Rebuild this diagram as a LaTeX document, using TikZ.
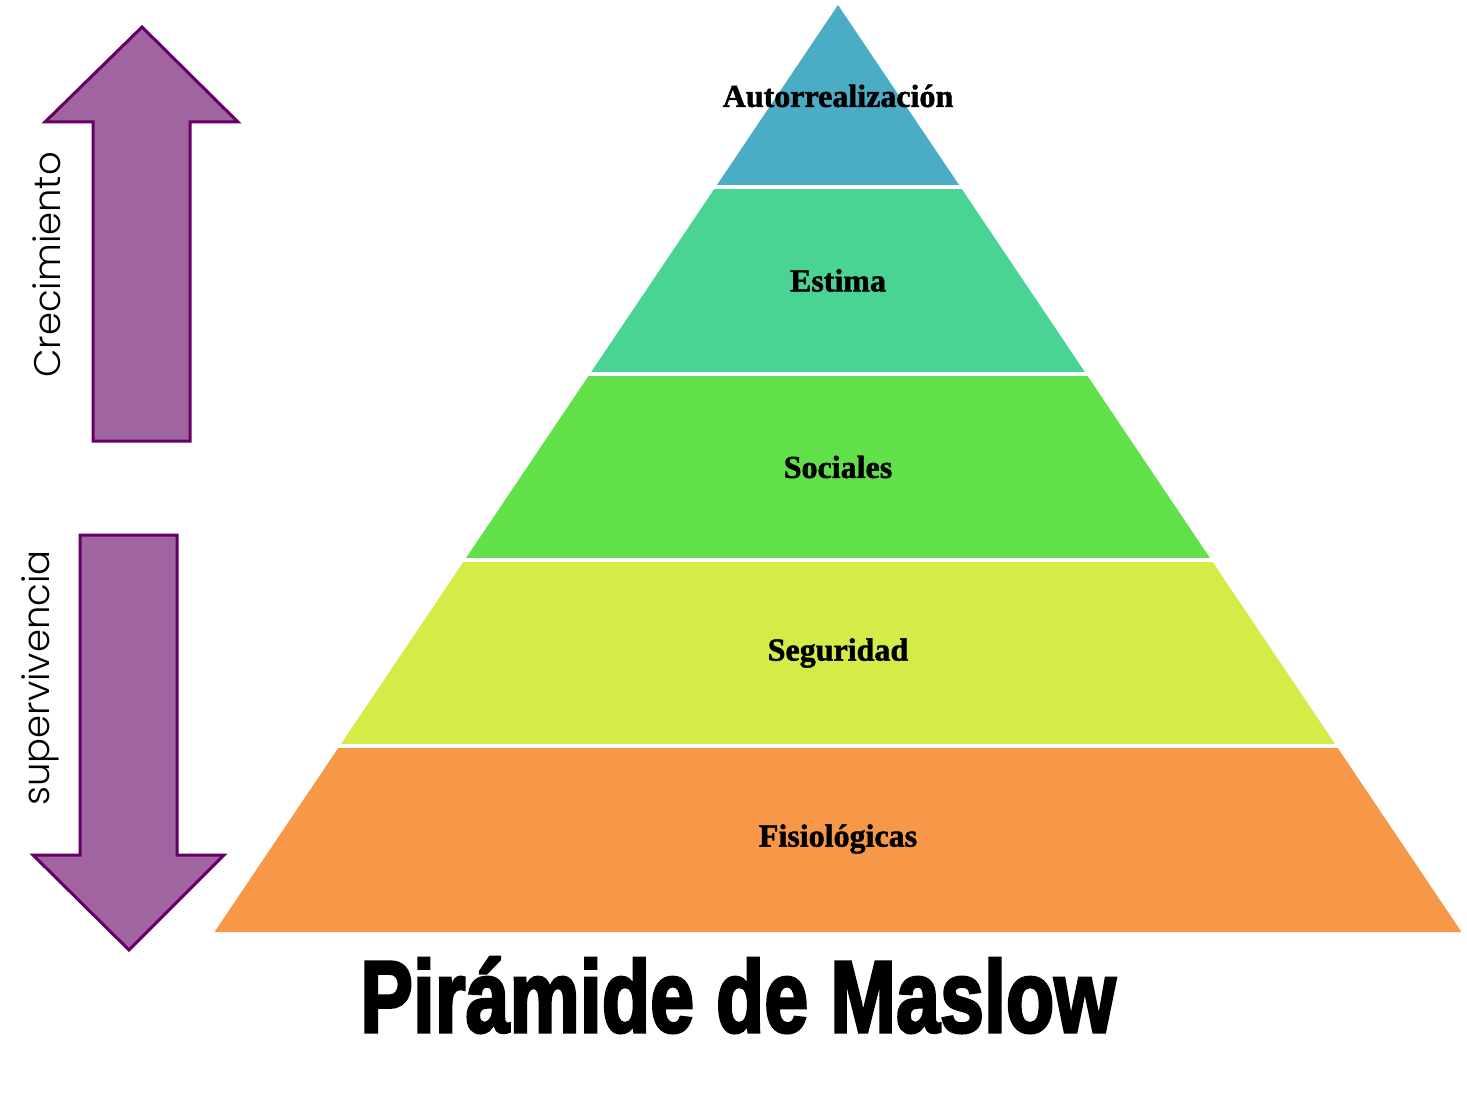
\documentclass[tikz,border=0pt]{standalone}
\usepackage{fontspec}
\setmainfont{Liberation Serif}[BoldFeatures={FakeBold=1.5}]
\newfontfamily\gothic{Poppins Light}
\newfontfamily\impact{Liberation Sans}[BoldFeatures={FakeBold=3}]
\definecolor{capa1}{HTML}{4BACC6}
\definecolor{capa2}{HTML}{4AD493}
\definecolor{capa3}{HTML}{62E049}
\definecolor{capa4}{HTML}{D5EB48}
\definecolor{capa5}{HTML}{F79748}
\definecolor{lila}{HTML}{A064A0}
\definecolor{borde}{HTML}{660066}
\tikzset{etiq/.style={font=\fontsize{32}{34}\selectfont\bfseries,inner sep=0pt},flecha/.style={draw=borde,fill=lila,line width=3pt,line join=miter},lado/.style={font=\gothic\fontsize{37}{39}\selectfont,rotate=90,inner sep=0pt},sep/.style={draw=white,line width=4pt}}
\begin{document}
\begin{tikzpicture}[x=1pt,y=-1pt]
\useasboundingbox (0,0) rectangle (1467,1107);
\foreach \t/\b/\c/\n [count=\i] in {5/187/capa1/Autorrealización,187/374/capa2/Estima,374/560/capa3/Sociales,560/746/capa4/Seguridad,746/932/capa5/Fisiológicas}{
\pgfmathsetmacro\wt{0.6726*(\t-5)}\pgfmathsetmacro\wb{0.6726*(\b-5)}
\fill[\c] ({838-\wt},\t)--({838+\wt},\t)--({838+\wb},\b)--({838-\wb},\b)--cycle;
\node[etiq] (n\i) at (838,{(\t+\b)/2}) {\n};}
\foreach \y in {187,374,560,746}\draw[sep] (200,\y)--(1467,\y);
\draw[flecha] (142,27)--(238,122)--(190,122)--(190,441)--(93,441)--(93,122)--(45,122)--cycle;
\draw[flecha] (80,535)--(177,535)--(177,855)--(224,855)--(129,950)--(33,855)--(80,855)--cycle;
\node[lado] (crec) at (47,265) {Crecimiento};\node[lado] (superv) at (40,678) {supervivencia};
\node[font=\impact\bfseries\fontsize{102}{104}\selectfont,xscale=0.775,anchor=base,inner sep=0pt] (titulo) at (738,1032) {Pirámide de Maslow};
\end{tikzpicture}
\end{document}
